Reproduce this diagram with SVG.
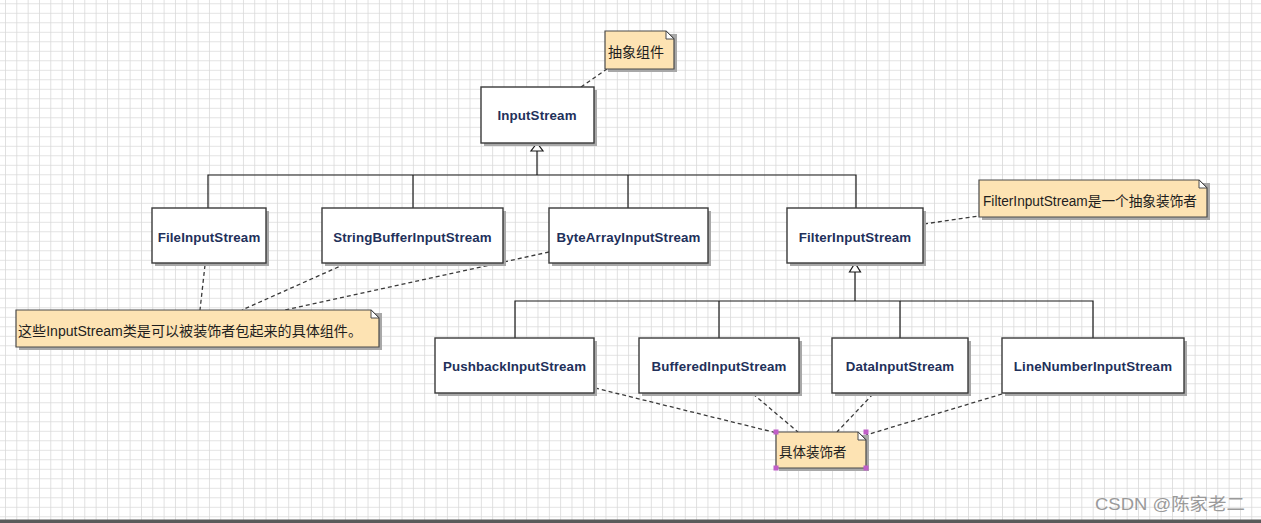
<svg xmlns="http://www.w3.org/2000/svg" width="1261" height="523" viewBox="0 0 1261 523">
<style>
.box{fill:#fff;stroke:#3a3a3a;stroke-width:1.4}
.shadow{fill:#a8a8a8}
.lbl{font-family:"Liberation Sans",Arial,sans-serif;font-weight:bold;font-size:13.3px;fill:#22305a;text-anchor:middle;letter-spacing:0.15px}
.note{fill:#fde3b3;stroke:#4a4a4a;stroke-width:1.2}
.fold{fill:#fff;stroke:#4a4a4a;stroke-width:1}
.ntxt{font-family:"Liberation Sans","Noto Sans CJK SC",sans-serif;font-size:14px;fill:#1e1e1e}
.gen{stroke:#1a1a1a;stroke-width:1.2;fill:none}
.tri{fill:#fff;stroke:#1a1a1a;stroke-width:1.2}
.dash{stroke:#3a3a3a;stroke-width:1.3;stroke-dasharray:4 3;fill:none}
.handle{fill:#c05ec8}
</style>
<defs>
<pattern id="grid" x="5" y="3.3" width="11.33" height="9.5" patternUnits="userSpaceOnUse">
<path d="M0 0H11.33M0 0V9.5" stroke="#d9d9d9" stroke-width="1.6" fill="none"/>
</pattern>
</defs>
<rect width="1261" height="523" fill="#fff"/>
<rect width="1261" height="523" fill="url(#grid)"/>
<rect x="0" y="519.5" width="1261" height="3.5" fill="#5a5a5a"/>

<g id="connectors">
<line class="gen" x1="537" y1="151" x2="537" y2="175"/>
<polyline class="gen" points="208,208 208,175 856,175 856,208"/>
<line class="gen" x1="413" y1="175" x2="413" y2="208"/>
<line class="gen" x1="628" y1="175" x2="628" y2="208"/>
<polygon class="tri" points="537,143 531,151 543,151"/>
<line class="gen" x1="855" y1="272" x2="855" y2="301"/>
<polyline class="gen" points="515,338 515,301 1093,301 1093,338"/>
<line class="gen" x1="719" y1="301" x2="719" y2="338"/>
<line class="gen" x1="900" y1="301" x2="900" y2="338"/>
<polygon class="tri" points="855,263 849.5,272 860.5,272"/>
<line class="dash" x1="581" y1="87" x2="607" y2="69"/>
<line class="dash" x1="924" y1="224" x2="979" y2="216"/>
<line class="dash" x1="205" y1="265" x2="200" y2="310"/>
<line class="dash" x1="345" y1="264" x2="242" y2="310"/>
<line class="dash" x1="549" y1="252" x2="285" y2="310"/>
<line class="dash" x1="595" y1="388" x2="777" y2="433"/>
<line class="dash" x1="753" y1="394" x2="798" y2="432"/>
<line class="dash" x1="873" y1="394" x2="837" y2="432"/>
<line class="dash" x1="1002" y1="394" x2="866" y2="435"/>
</g>

<g id="InputStream">
<rect class="shadow" x="484" y="90" width="113" height="56"/>
<rect class="box" x="481" y="87" width="113" height="56"/>
<text class="lbl" x="537" y="120">InputStream</text>
</g>
<g id="FileInputStream">
<rect class="shadow" x="155" y="211" width="114" height="55"/>
<rect class="box" x="152" y="208" width="114" height="55"/>
<text class="lbl" x="209" y="242">FileInputStream</text>
</g>
<g id="StringBufferInputStream">
<rect class="shadow" x="325" y="211" width="181" height="55"/>
<rect class="box" x="322" y="208" width="181" height="55"/>
<text class="lbl" x="412.5" y="242">StringBufferInputStream</text>
</g>
<g id="ByteArrayInputStream">
<rect class="shadow" x="552" y="211" width="159" height="55"/>
<rect class="box" x="549" y="208" width="159" height="55"/>
<text class="lbl" x="628.5" y="242">ByteArrayInputStream</text>
</g>
<g id="FilterInputStream">
<rect class="shadow" x="790" y="211" width="136" height="55"/>
<rect class="box" x="787" y="208" width="136" height="55"/>
<text class="lbl" x="855" y="242">FilterInputStream</text>
</g>
<g id="PushbackInputStream">
<rect class="shadow" x="438" y="341" width="159" height="55"/>
<rect class="box" x="435" y="338" width="159" height="55"/>
<text class="lbl" x="514.5" y="371">PushbackInputStream</text>
</g>
<g id="BufferedInputStream">
<rect class="shadow" x="642" y="341" width="160" height="55"/>
<rect class="box" x="639" y="338" width="160" height="55"/>
<text class="lbl" x="719" y="371">BufferedInputStream</text>
</g>
<g id="DataInputStream">
<rect class="shadow" x="835" y="341" width="136" height="55"/>
<rect class="box" x="832" y="338" width="136" height="55"/>
<text class="lbl" x="900" y="371">DataInputStream</text>
</g>
<g id="LineNumberInputStream">
<rect class="shadow" x="1005" y="341" width="182" height="55"/>
<rect class="box" x="1002" y="338" width="182" height="55"/>
<text class="lbl" x="1093" y="371">LineNumberInputStream</text>
</g>

<g id="note-abstract">
<rect class="shadow" x="608" y="34" width="69" height="38"/>
<path class="note" d="M605 31H666L674 39V69H605Z"/>
<path class="fold" d="M666 31V39H674Z"/>
<text class="ntxt" x="608" y="57">抽象组件</text>
</g>
<g id="note-filter">
<rect class="shadow" x="982" y="183" width="228" height="37"/>
<path class="note" d="M979 180H1199L1207 188V217H979Z"/>
<path class="fold" d="M1199 180V188H1207Z"/>
<text class="ntxt" x="983" y="206" textLength="214" lengthAdjust="spacingAndGlyphs">FilterInputStream是一个抽象装饰者</text>
</g>
<g id="note-concrete">
<rect class="shadow" x="19" y="313" width="363" height="37"/>
<path class="note" d="M16 310H371L379 318V347H16Z"/>
<path class="fold" d="M371 310V318H379Z"/>
<text class="ntxt" x="18" y="336" textLength="344" lengthAdjust="spacingAndGlyphs">这些InputStream类是可以被装饰者包起来的具体组件。</text>
</g>
<g id="note-decorator">
<rect class="shadow" x="779" y="435" width="90" height="36"/>
<path class="note" d="M776 432H858L866 440V468H776Z"/>
<path class="fold" d="M858 432V440H866Z"/>
<text class="ntxt" x="779" y="457" style="font-size:13.5px">具体装饰者</text>
<rect class="handle" x="773.5" y="429.5" width="5" height="5"/>
<rect class="handle" x="863.5" y="429.5" width="5" height="5"/>
<rect class="handle" x="773.5" y="465.5" width="5" height="5"/>
<rect class="handle" x="863.5" y="465.5" width="5" height="5"/>
</g>

<text x="1095" y="510" textLength="150" lengthAdjust="spacingAndGlyphs" style="font-family:'Liberation Sans','Noto Sans CJK SC',sans-serif;font-size:17px;fill:#9a9a9a">CSDN @陈家老二</text>
</svg>
